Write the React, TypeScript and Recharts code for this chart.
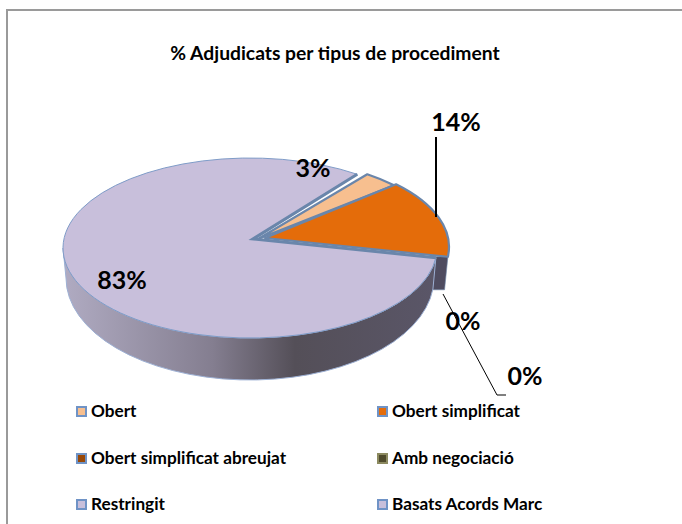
import { PieChart, Pie, Legend } from 'recharts'

const categories = ['Obert', 'Obert simplificat', 'Obert simplificat abreujat', 'Amb negociació', 'Restringit', 'Basats Acords Marc']
const shares = [3, 14, 0, 0, 0, 83]
const sliceColors = ['#f7bf8f', '#e46c0a', '#984807', '#4f4b2c', '#c8bfdb', '#c8bfdb']
const legendBorders = ['#6f93c6', '#6f93c6', '#6f93c6', '#8c8a60', '#6f93c6', '#6f93c6']
const dataLabels = ['3%', '14%', '0%', '0%', '', '83%']

const data = categories.map((name, i) => ({ name, value: shares[i] }))

const WIDTH = 682
const HEIGHT = 524
const CX = 250
const CY = 248
const RX = 187
const RY = 90
// the picture is a perspective pie, so the base ellipse does not share the top one
const BASE_DY = 30
const BASE_RX = 184
const BASE_RY = 102
const APEX_DY = -9
const APEX_DX = [-2, 3, 3, 3, 3, 3]
const EXPLODE = [10, 12, 0, 0, 0, 0]
const EXPLODE_DY = [0, -1, 0, 0, 0, 0]

const font = 'Lato, Carlito, "Open Sans", sans-serif'
const rad = (a: number) => (a * Math.PI) / 180

function topPoint(cx: number, cy: number, a: number) {
  return { x: cx + RX * Math.cos(rad(a)), y: cy - RY * Math.sin(rad(a)) }
}
function basePoint(cx: number, cy: number, a: number) {
  return { x: cx + BASE_RX * Math.cos(rad(a)), y: cy + BASE_DY - BASE_RY * Math.sin(rad(a)) }
}

function Slice(props: any) {
  const { cx, cy, startAngle, endAngle, index, fill } = props
  const hi = Math.max(startAngle, endAngle)
  const lo = Math.min(startAngle, endAngle)
  if (hi - lo < 0.01) return null

  const ox = cx + EXPLODE[index]
  const oy = cy + EXPLODE_DY[index]
  const a = topPoint(ox, oy, hi)
  const b = topPoint(ox, oy, lo)
  const apexX = ox + APEX_DX[index]
  const apexY = oy + APEX_DY
  const large = hi - lo > 180 ? 1 : 0
  const top = `M${apexX},${apexY} L${a.x},${a.y} A${RX},${RY} 0 ${large} 1 ${b.x},${b.y} Z`
  const isMain = hi - lo > 180

  let wall = null
  if (isMain) {
    const from = topPoint(ox, oy, hi)
    const left = topPoint(ox, oy, -180)
    const baseLeft = basePoint(ox, oy, -180)
    const baseFrom = basePoint(ox, oy, hi)
    wall = (
      <path
        d={`M${from.x},${from.y} A${RX},${RY} 0 0 1 ${left.x},${left.y} L${baseLeft.x},${baseLeft.y} A${BASE_RX},${BASE_RY} 0 0 0 ${baseFrom.x},${baseFrom.y} Z`}
        fill="url(#wallShade)"
        stroke="#9db0d4"
        strokeWidth={1}
      />
    )
  } else if (index === 1) {
    // small piece of the orange slice's side that shows past the big slice
    const p = topPoint(ox, oy, lo)
    const q = basePoint(ox, oy, lo - 1)
    wall = <path d={`M${p.x},${p.y} L${q.x},${q.y} L${q.x - 14},${q.y} L${p.x - 14},${p.y} Z`} fill="#4f4c60" stroke="#6f86a8" strokeWidth={0.6} />
  }

  return (
    <g>
      {wall}
      <path d={top} fill={fill} stroke={isMain ? '#7f9cc8' : '#6a86ab'} strokeWidth={isMain ? 1 : 2.2} strokeLinejoin="round" />
      {isMain && (
        <path d={`M${a.x},${a.y} L${apexX},${apexY} L${b.x},${b.y}`} fill="none" stroke="#6a86ab" strokeWidth={3} />
      )}
    </g>
  )
}

const labelSpots = [
  { x: 313, y: 167 },
  { x: 456, y: 121 },
  { x: 463, y: 320 },
  { x: 525, y: 375 },
  null,
  { x: 122, y: 279 },
]

function SliceLabel(props: any) {
  const { index } = props
  const spot = labelSpots[index]
  if (!spot) return null
  return (
    <g>
      {index === 1 && <path d={`M${spot.x - 20},${spot.y + 16} V${spot.y + 96}`} stroke="#000" strokeWidth={2} fill="none" />}
      {index === 3 && (
        <path d={`M${spot.x - 82},${spot.y - 81} L${spot.x - 28},${spot.y + 20} H${spot.x - 19}`} stroke="#000" strokeWidth={1} fill="none" />
      )}
      <text x={spot.x} y={spot.y} textAnchor="middle" dominantBaseline="central" fontFamily={font} fontWeight={700} fontSize={25} fill="#000">
        {dataLabels[index]}
      </text>
    </g>
  )
}

function SwatchLegend() {
  return (
    <div
      style={{
        position: 'absolute',
        left: 76,
        top: 400,
        width: 560,
        display: 'grid',
        gridTemplateColumns: '301px 259px',
        gridAutoRows: '46.5px',
        fontFamily: font,
        fontWeight: 700,
        fontSize: 17.2,
        color: '#000',
      }}
    >
      {categories.map((name, i) => (
        <div key={name} style={{ display: 'flex', alignItems: 'flex-start', lineHeight: '22px', whiteSpace: 'nowrap' }}>
          <span
            style={{
              width: 7,
              height: 7,
              marginTop: 6,
              marginRight: 4,
              background: sliceColors[i],
              border: `2px solid ${legendBorders[i]}`,
              flex: 'none',
            }}
          />
          {name}
        </div>
      ))}
    </div>
  )
}

export default function App() {
  return (
    <div style={{ position: 'absolute', left: 0, top: 0, width: WIDTH, height: HEIGHT, overflow: 'hidden', background: '#fff' }}>
      <div style={{ position: 'absolute', left: 6, top: 9, right: 0, height: 2, background: '#9a9a9a' }} />
      <div style={{ position: 'absolute', left: 6, top: 9, bottom: 0, width: 2, background: '#9a9a9a' }} />
      <PieChart width={WIDTH} height={HEIGHT} margin={{ top: 0, right: 0, bottom: 0, left: 0 }}>
        <defs>
          <linearGradient id="wallShade" gradientUnits="userSpaceOnUse" x1={CX - RX} y1={0} x2={CX + RX} y2={0}>
            <stop offset="0" stopColor="#b0abc2" />
            <stop offset="0.4" stopColor="#847e90" />
            <stop offset="0.62" stopColor="#544f58" />
            <stop offset="1" stopColor="#5a5668" />
          </linearGradient>
        </defs>
        <text x={335} y={52} textAnchor="middle" dominantBaseline="central" fontFamily={font} fontWeight={700} fontSize={19.3} fill="#000">
          % Adjudicats per tipus de procediment
        </text>
        <Pie
          data={data}
          dataKey="value"
          nameKey="name"
          cx={CX}
          cy={CY}
          innerRadius={0}
          outerRadius={RX}
          startAngle={55}
          endAngle={-305}
          stroke="none"
          shape={(p: any) => <Slice {...p} fill={sliceColors[p.index]} />}
          label={(p: any) => <SliceLabel {...p} />}
          labelLine={false}
          isAnimationActive={false}
        />
        <Legend content={() => <SwatchLegend />} wrapperStyle={{ position: 'absolute', left: 0, top: 0, width: 0, height: 0 }} />
      </PieChart>
    </div>
  )
}
